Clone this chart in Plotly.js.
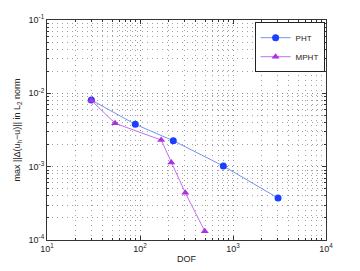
<!DOCTYPE html>
<html><head><meta charset="utf-8">
<script src="https://cdn.plot.ly/plotly-3.0.1.min.js"></script>
<style>html,body{margin:0;padding:0;background:#fff}#c{width:360px;height:271px}</style>
</head><body><div id="c"></div>
<script>
const phtDof = [30, 89, 228, 787, 3050];
const phtErr = [0.0081, 0.00378, 0.00226, 0.00102, 0.000373];
const mphtDof = [30, 54, 169, 217, 307, 497];
const mphtErr = [0.0080, 0.0039, 0.00231, 0.00114, 0.00044, 0.000132];
const xTickVals = [10, 100, 1000, 10000];
const xTickText = ['10<sup>1</sup>', '10<sup>2</sup>', '10<sup>3</sup>', '10<sup>4</sup>'];
const yTickVals = [1e-4, 1e-3, 1e-2, 1e-1];
const yTickText = ['10<sup>-4</sup>', '10<sup>-3</sup>', '10<sup>-2</sup>', '10<sup>-1</sup>'];

const font = {family: 'Liberation Sans, Arial, sans-serif', size: 9, color: '#222'};
function axisStyle() {
  return {
    showgrid: true, gridcolor: '#8c8c8c', griddash: '1px,4px', gridwidth: 1,
    ticks: 'inside', ticklen: 4, tickcolor: '#333', showline: true, linecolor: '#333',
    linewidth: 1, mirror: 'ticks', zeroline: false,
    minor: {tickmode: 'linear', dtick: 'D1', showgrid: true, gridcolor: '#a0a0a0', griddash: '1px,4px',
            gridwidth: 1, ticks: 'inside', ticklen: 2, tickcolor: '#333'}
  };
}
const data = [
  {x: phtDof, y: phtErr, name: 'PHT', type: 'scatter', mode: 'lines+markers',
   line: {color: '#7393f2', width: 1}, marker: {color: '#1a3fff', size: 7, symbol: 'circle'}},
  {x: mphtDof, y: mphtErr, name: 'MPHT', type: 'scatter', mode: 'lines+markers',
   line: {color: '#c46ef2', width: 1}, marker: {color: '#b02ee6', size: 7, symbol: 'triangle-up'}}
];
const layout = {
  width: 360, height: 271, font: font, showlegend: true,
  paper_bgcolor: '#fff', plot_bgcolor: '#fff',
  margin: {l: 47, r: 34, t: 20, b: 31},
  xaxis: Object.assign({type: 'log', range: [1, 4], tickmode: 'array', tickvals: xTickVals, ticktext: xTickText,
    title: {text: 'DOF', font: font, standoff: 2}}, axisStyle()),
  yaxis: Object.assign({type: 'log', range: [-4, -1], tickmode: 'array', tickvals: yTickVals, ticktext: yTickText,
    title: {text: 'max ||Δ(u<sub>h</sub>−u)|| in L<sub>2</sub> norm', font: font, standoff: 6}}, axisStyle()),
  legend: {x: 0.995, y: 0.99, xanchor: 'right', yanchor: 'top', bgcolor: '#fff',
    bordercolor: '#222', borderwidth: 1, font: {family: font.family, size: 8, color: '#222'},
    tracegroupgap: 0, itemwidth: 30}
};
Plotly.newPlot('c', data, layout, {staticPlot: true, displayModeBar: false});
</script></body></html>
